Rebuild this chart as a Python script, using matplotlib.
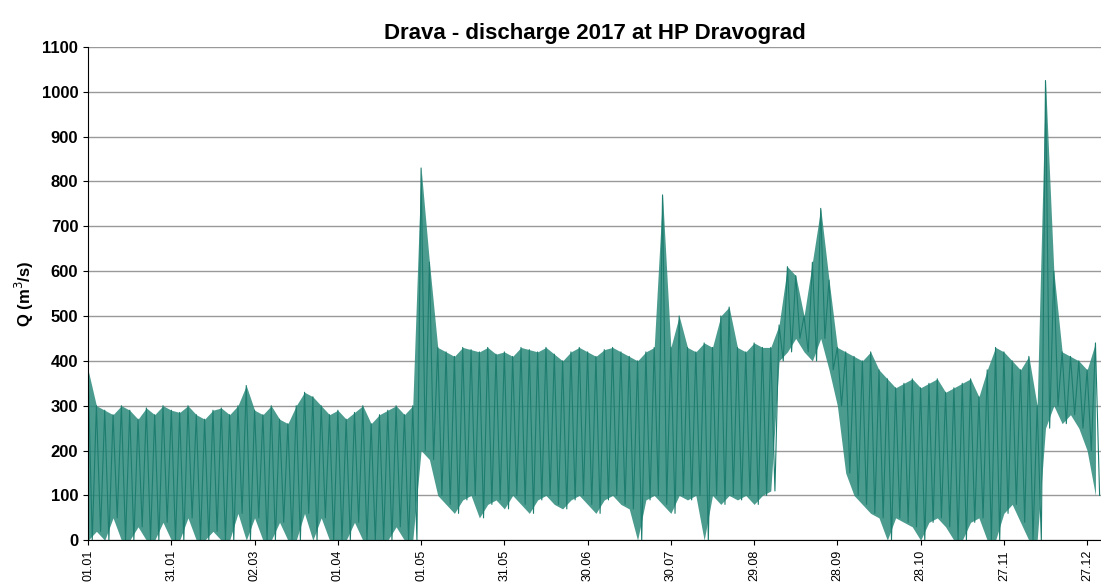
import matplotlib
matplotlib.use("Agg")
import matplotlib.pyplot as plt
import numpy as np

plt.rcParams['font.family'] = ['Liberation Sans', 'DejaVu Sans']

step_days = 3
hi = [380,300,290,280,300,290,270,295,280,300, 290,285,300,280,270,290,295,280,300,345,
      290,280,300,270,260,300,330,320,300,280, 290,270,285,300,260,280,290,300,280,300,
      830,620,430,
      420,410,430,425,420,430,415,420,410,430,425,420,430,415,400,420,430,420,410,425,430,420,410,400,420,430,
      770,430,
      500,430,420,440,430,500,520,430,420,440,430,430,
      480,610,590,500,620,740,580,430,
      420,410,400,420,380,360,340,350,360,340,350,360,330,340,350,360,320,380,430,420,400,380,410,300,
      1025,600,
      420,410,400,380,440]
lo = [0,20,0,50,0,0,30,0,0,40, 0,0,50,0,0,20,0,0,60,0,
      50,0,0,40,0,0,60,0,50,0, 0,0,40,0,0,0,0,30,0,0,
      200,180,100,
      80,60,90,100,50,80,90,70,100,80,60,90,100,80,70,90,100,80,60,90,100,80,70,0,90,100,
      80,60,
      100,90,100,0,100,80,100,90,100,80,100,110,
      400,420,450,420,400,450,380,300,
      150,100,80,60,50,0,50,40,30,0,40,50,30,0,0,40,50,0,0,60,80,40,0,0,
      250,300,
      260,280,250,200,100]
tick_labels = ["01.01","31.01","02.03","01.04","01.05","31.05","30.06","30.07",
               "29.08","28.09","28.10","27.11","27.12"]

days = np.arange(len(hi)) * step_days
hi_a = np.array(hi); lo_a = np.array(lo)
zx = np.ravel(np.column_stack([days, days + 1.5]))
zy = np.ravel(np.column_stack([hi_a, lo_a]))

fig = plt.figure(figsize=(11.01, 5.86), dpi=100)
ax = fig.add_axes([0.08, 0.078, 0.92, 0.842])
col = "#1d7d6f"
ax.fill_between(days, lo_a, hi_a, color="#2b8a7c", alpha=0.85, lw=0)
ax.plot(zx, zy, color=col, lw=0.8)
ax.set_xlim(0, 365)
ax.set_ylim(0, 1100)
ax.set_yticks(range(0, 1101, 100))
ax.yaxis.grid(True, color="#999999", lw=1)
ax.set_axisbelow(True)
ax.set_xticks([i * 30 for i in range(len(tick_labels))])
ax.set_xticklabels(tick_labels, rotation=90, fontsize=9)
for lab in ax.get_yticklabels():
    lab.set_fontweight("bold"); lab.set_fontsize(12)
ax.set_ylabel("Q (m$^3$/s)", fontweight="bold", fontsize=12)
ax.set_title("Drava - discharge 2017 at HP Dravograd", fontweight="bold", fontsize=16)
for s in ["top", "right"]:
    ax.spines[s].set_visible(False)
fig.savefig("out.png", dpi=100)
